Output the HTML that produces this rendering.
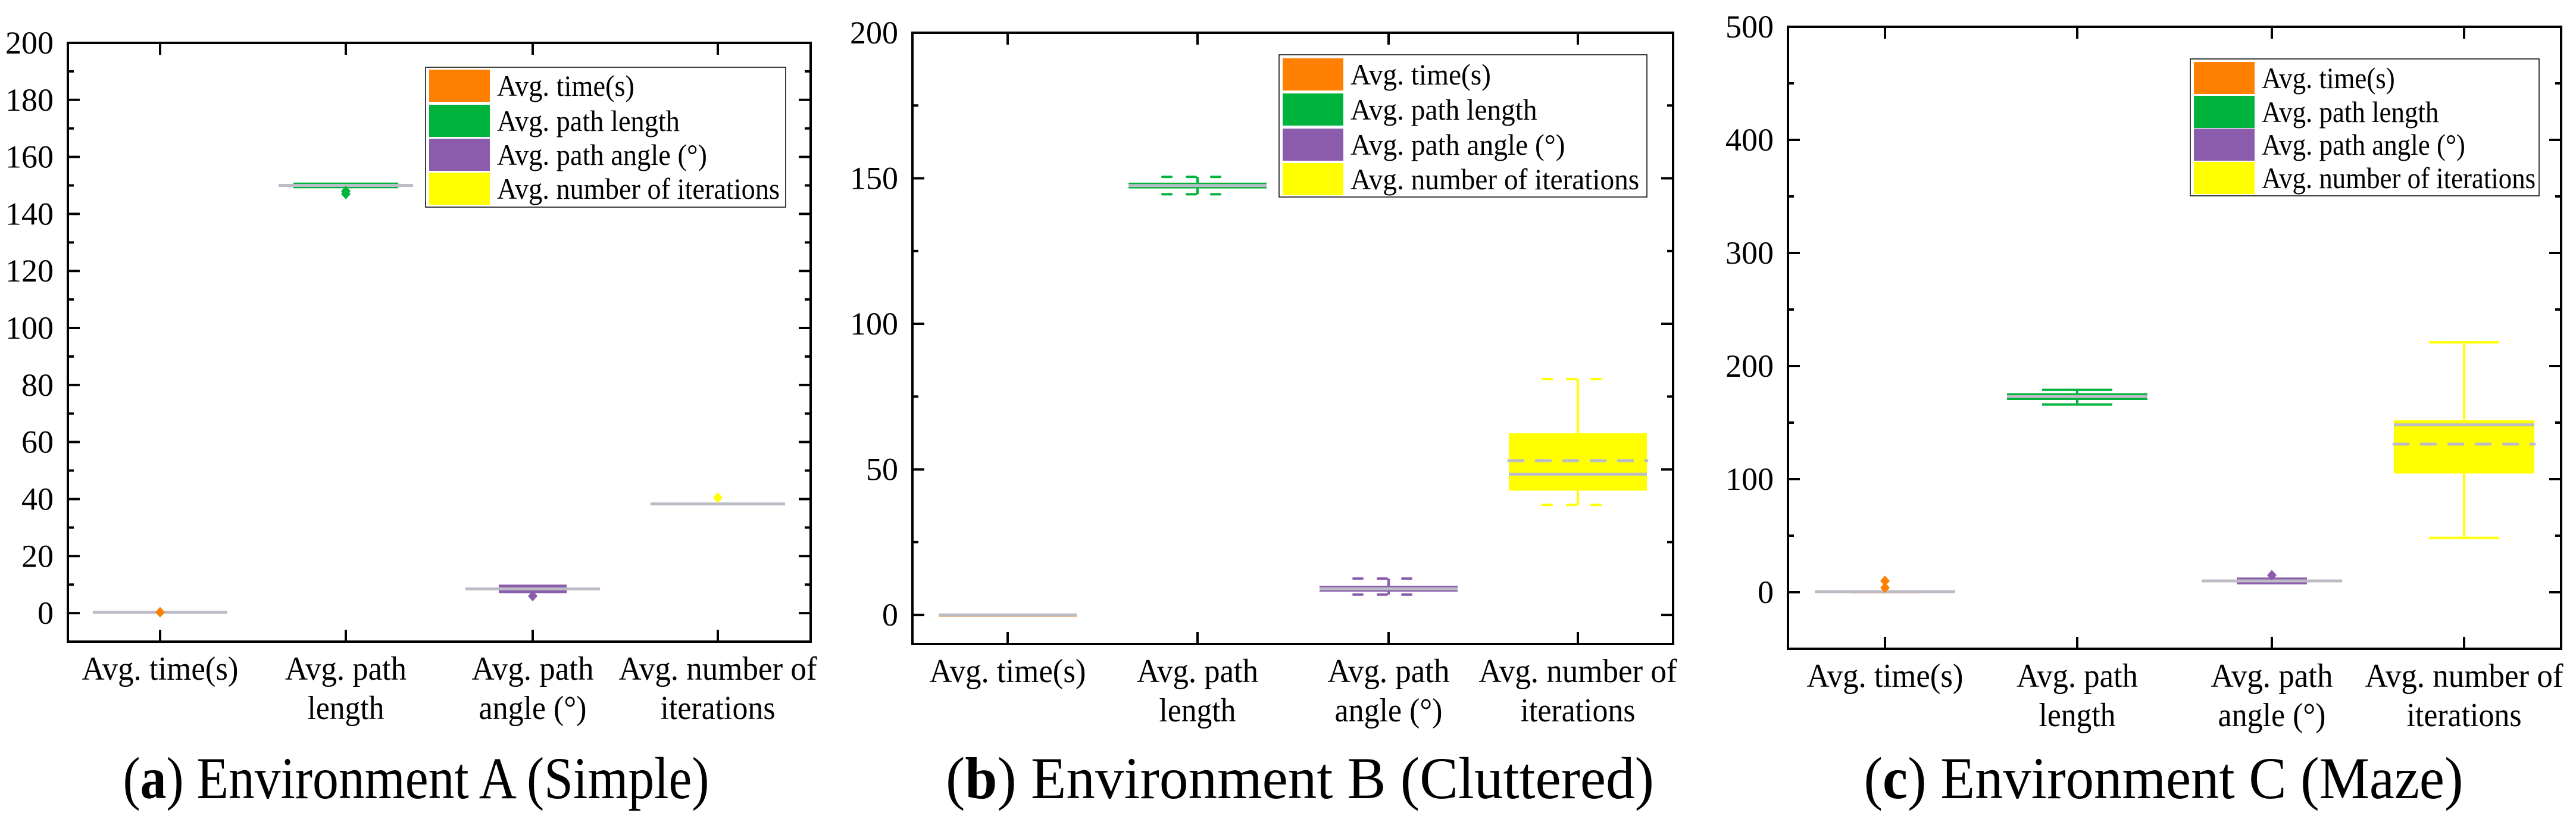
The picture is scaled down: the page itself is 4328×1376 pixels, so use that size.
<!DOCTYPE html>
<html><head><meta charset="utf-8">
<style>
html,body{margin:0;padding:0;background:#fff;}
svg, svg text{font-family:"Liberation Serif","DejaVu Serif",serif;}
</style></head>
<body>
<svg id="fig" width="4328" height="1371" viewBox="0 0 4328 1371" xmlns="http://www.w3.org/2000/svg" font-family="Liberation Serif, serif"></svg>
<script>
// ---------- data ----------
const categories = ["Avg. time(s)", "Avg. path length", "Avg. path angle (°)", "Avg. number of iterations"];
const catLine1 = ["Avg. time(s)", "Avg. path", "Avg. path", "Avg. number of"];
const catLine2 = ["", "length", "angle (°)", "iterations"];
const legendLabels = ["Avg. time(s)", "Avg. path length", "Avg. path angle (°)", "Avg. number of iterations"];
const colors = ["#ff8000", "#00b33c", "#8b5cab", "#ffff00"];

// [whiskerLow, q1, median, mean, q3, whiskerHigh]
const envA_stats = [
  [0, 0, 0.3, 0.3, 0.5, 0.5],
  [149, 149, 150, 150.2, 151, 151],
  [7, 7, 8.5, 8.2, 10, 10],
  [38, 38, 38.3, 38.3, 38.6, 38.6]
];
const envA_outliers = [[0.3], [147, 148], [6], [40.5]];
const envA_ticks = [0, 20, 40, 60, 80, 100, 120, 140, 160, 180, 200];

const envB_stats = [
  [0, 0, 0, 0, 0, 0],
  [144.5, 146.5, 147.5, 147.7, 148.5, 150.5],
  [7, 8, 9, 9.3, 10, 12.5],
  [37.8, 42.7, 48.3, 53, 62.4, 81]
];
const envB_outliers = [[], [], [], []];
const envB_ticks = [0, 50, 100, 150, 200];

const envC_stats = [
  [-1, -1, 0.5, 0.8, 1, 1],
  [166, 170, 173, 174, 176, 179],
  [7, 7, 10, 10, 13, 13],
  [48, 105, 148, 131, 152, 221]
];
const envC_outliers = [[10, 4], [], [15], []];
const envC_ticks = [0, 100, 200, 300, 400, 500];

const captions = [["a", " Environment A (Simple)"], ["b", " Environment B (Cluttered)"], ["c", " Environment C (Maze)"]];

// ---------- layout (text widths, not data) ----------
const line1W = [263, 204, 205, 333];
const line2W = [0, 129, 181, 193];
const legW = [231, 307, 353, 475];

const panels = [
  {id:"a", L:114, R:1362, T:72, B:1078, ymin:-10, ymax:200, minor:10, cats:[269,581,895,1206],
   boxHalf:[57,88,57,57], lineHalf:113, capHalf:0, dashedCaps:false, stats:envA_stats, outliers:envA_outliers, ticks:envA_ticks,
   leg:{x:715,y:113,w:605,h:235,rows:[144,203,260,317]}, capX:699, capW:985},
  {id:"b", L:1533, R:2811, T:55, B:1082, ymin:-10, ymax:200, minor:25, cats:[1693,2012,2333,2651],
   boxHalf:[116,116,116,116], lineHalf:116, capHalf:59, dashedCaps:true, stats:envB_stats, outliers:envB_outliers, ticks:envB_ticks,
   leg:{x:2149,y:92,w:618,h:239,rows:[125,184,243,301]}, capX:2184, capW:1190},
  {id:"c", L:3004, R:4303, T:45, B:1090, ymin:-50, ymax:500, minor:50, cats:[3167,3490,3817,4140],
   boxHalf:[59,118,59,118], lineHalf:118, capHalf:59, dashedCaps:false, stats:envC_stats, outliers:envC_outliers, ticks:envC_ticks,
   leg:{x:3680,y:99,w:586,h:230,rows:[131,188,243,299]}, capX:3635, capW:1007}
];

const FF = '"Liberation Serif", "DejaVu Serif", serif';
const svg = document.getElementById('fig');
const NS = "http://www.w3.org/2000/svg";
function mk(tag, attrs, parent){
  const e = document.createElementNS(NS, tag);
  for (const k in attrs) e.setAttribute(k, attrs[k]);
  if (tag === 'text') e.style.fontFamily = FF;
  (parent||svg).appendChild(e);
  return e;
}

panels.forEach((p, pi) => {
  const g = mk('g', {});
  
  
  const y = v => p.B - (v - p.ymin) / (p.ymax - p.ymin) * (p.B - p.T);

  for (let v = 0; v <= p.ymax + 1e-9; v += p.minor) {
    const isMajor = p.ticks.indexOf(v) >= 0;
    const len = isMajor ? 20 : 10;
    mk('line', {x1:p.L, x2:p.L+len, y1:y(v), y2:y(v), stroke:'#000','stroke-width':4}, g);
    mk('line', {x1:p.R, x2:p.R-len, y1:y(v), y2:y(v), stroke:'#000','stroke-width':4}, g);
  }
  if (p.ymin < 0 && p.minor <= -p.ymin) {
    for (let v = -p.minor; v > p.ymin; v -= p.minor) {
      mk('line', {x1:p.L, x2:p.L+10, y1:y(v), y2:y(v), stroke:'#000','stroke-width':4}, g);
      mk('line', {x1:p.R, x2:p.R-10, y1:y(v), y2:y(v), stroke:'#000','stroke-width':4}, g);
    }
  }
  p.ticks.forEach(v => {
    const t = mk('text', {x:p.L-24, y:y(v)+18, 'font-size':54, 'text-anchor':'end', fill:'#000'}, g);
    
    
    t.textContent = v;
  });
  p.cats.forEach((cx, i) => {
    mk('line', {x1:cx, x2:cx, y1:p.B, y2:p.B-20, stroke:'#000','stroke-width':4}, g);
    mk('line', {x1:cx, x2:cx, y1:p.T, y2:p.T+20, stroke:'#000','stroke-width':4}, g);
    const t = mk('text', {x:cx, y:p.B+64, 'font-size':56, 'text-anchor':'middle', fill:'#000', textLength:line1W[i], lengthAdjust:'spacingAndGlyphs'}, g);
    
    
    t.textContent = catLine1[i];
    if (catLine2[i]) {
      const t2 = mk('text', {x:cx, y:p.B+130, 'font-size':56, 'text-anchor':'middle', fill:'#000', textLength:line2W[i], lengthAdjust:'spacingAndGlyphs'}, g);
      
      
      t2.textContent = catLine2[i];
    }
  });

  p.stats.forEach((s, i) => {
    const cx = p.cats[i], col = colors[i], bh = p.boxHalf[i];
    const bg = mk('g', {}, g);
    
    
    mk('line', {x1:cx, x2:cx, y1:y(s[5]), y2:y(s[4]), stroke:col, 'stroke-width':4}, bg);
    mk('line', {x1:cx, x2:cx, y1:y(s[0]), y2:y(s[1]), stroke:col, 'stroke-width':4}, bg);
    if (p.capHalf > 0 && s[5] > s[4]) {
      const da = p.dashedCaps ? {'stroke-dasharray':'15 26', 'stroke-linecap':'round'} : {};
      [s[0], s[5]].forEach(v => {
        mk('line', Object.assign({x1:cx-p.capHalf, x2:cx+p.capHalf, y1:y(v), y2:y(v), stroke:col, 'stroke-width':4}, da), bg);
      });
    }
    const yt = y(s[4]), yb = y(s[1]);
    mk('rect', {x:cx-bh, y:yt, width:2*bh, height:Math.max(yb-yt, 3), fill:col}, bg);
    mk('line', {x1:cx-p.lineHalf, x2:cx+p.lineHalf, y1:y(s[2]), y2:y(s[2]), stroke:'#bcbcc6', 'stroke-width':5}, bg);
    if (Math.abs(s[3]-s[2]) * (p.B-p.T)/(p.ymax-p.ymin) > 6)
      mk('line', {x1:cx-p.lineHalf, x2:cx+p.lineHalf, y1:y(s[3]), y2:y(s[3]), stroke:'#bcbcc6', 'stroke-width':5, 'stroke-dasharray':'24 22', 'stroke-linecap':'round'}, bg);
    p.outliers[i].forEach(v => {
      const oy = y(v);
      const d = mk('polygon', {points:`${cx},${oy-9} ${cx+8},${oy} ${cx},${oy+9} ${cx-8},${oy}`, fill:col}, bg);
      
      
    });
  });

  const fr = mk('rect', {x:p.L, y:p.T, width:p.R-p.L, height:p.B-p.T, fill:'none', stroke:'#000', 'stroke-width':4}, g);
  
  

  const lg = mk('g', {}, g);
  
  
  mk('rect', {x:p.leg.x, y:p.leg.y, width:p.leg.w, height:p.leg.h, fill:'#fff', stroke:'#000', 'stroke-width':1.5}, lg);
  legendLabels.forEach((lab, i) => {
    const ry = p.leg.rows[i];
    const e = mk('g', {}, lg);
    
    
    mk('rect', {x:p.leg.x+6, y:ry-27, width:102, height:54, fill:colors[i]}, e);
    const t = mk('text', {x:p.leg.x+120, y:ry+17, 'font-size':50, fill:'#000', textLength:legW[i] * (p.leg.w/605), lengthAdjust:'spacingAndGlyphs'}, e);
    t.textContent = lab;
  });

  const c = mk('text', {x:p.capX, y:1341, 'font-size':100, 'text-anchor':'middle', fill:'#000', textLength:p.capW, lengthAdjust:'spacingAndGlyphs'}, g);
  
  
  const open = mk('tspan', {}, c); open.textContent = '(';
  const b = mk('tspan', {'font-weight':'bold'}, c); b.textContent = captions[pi][0];
  const rest = mk('tspan', {}, c); rest.textContent = ')' + captions[pi][1];
});
</script>
</body></html>
